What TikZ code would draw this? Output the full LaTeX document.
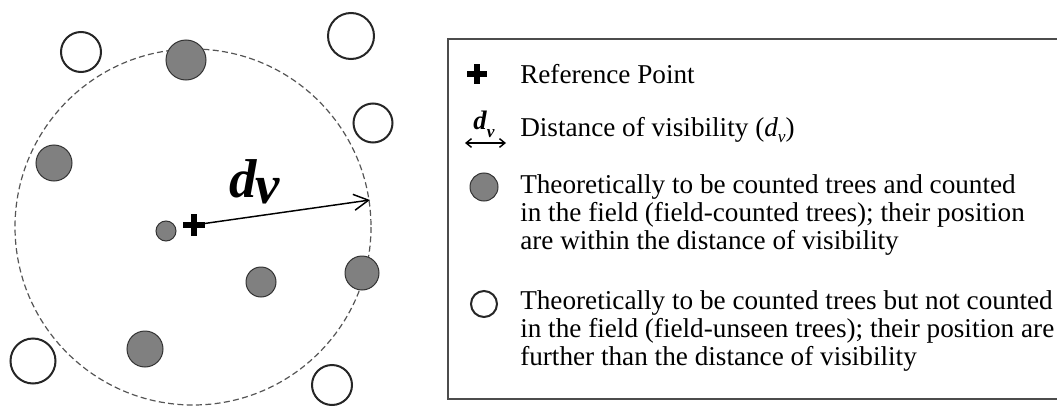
\documentclass[tikz,border=0pt]{standalone}
\usepackage{fontspec}
\setmainfont{Liberation Serif}
\usepackage{tikz}
\usetikzlibrary{arrows.meta}

\definecolor{treegray}{HTML}{808080}
\definecolor{ringgray}{HTML}{555555}

\newcommand{\dvbig}{\textbf{\textit{d}}\kern-1pt\raisebox{-0.12em}{\textbf{\textit{v}}}}
\newcommand{\dvsmall}{\textbf{\textit{d}}\raisebox{-0.3em}{\fontsize{13}{13}\selectfont\textbf{\textit{v}}}}

\begin{document}
\begin{tikzpicture}[x=0.75pt, y=-0.75pt,
    seen/.style={circle, draw=black!80, fill=treegray, line width=0.75pt, inner sep=0pt, minimum size=#1*1.5pt},
    unseen/.style={circle, draw=black!85, fill=white, line width=1.5pt, inner sep=0pt, minimum size=#1*1.5pt},
    refmark/.style={inner sep=0pt, minimum size=#1*0.75pt, path picture={
        \draw[line width=4.2pt] (path picture bounding box.north) -- (path picture bounding box.south)
              (path picture bounding box.west) -- (path picture bounding box.east);}},
    legtext/.style={anchor=west, align=left, inner sep=0pt, font=\fontsize{20.4}{21}\selectfont}]
    \useasboundingbox (0,0) rectangle (1057,407);

    % Distance of visibility ring round the reference point
    \coordinate (ctr) at (193,227);
    \draw[ringgray, dash pattern=on 4.5pt off 2.5pt, line width=0.9pt] (ctr) circle (178);

    % Trees within the ring (field-counted)
    \node[seen=20] (s1) at (186,60) {};
    \node[seen=18] (s2) at (54,163) {};
    \node[seen=10] (s3) at (166,231) {};
    \node[seen=15] (s4) at (261,282) {};
    \node[seen=17] (s5) at (362,273) {};
    \node[seen=18] (s6) at (145,349) {};

    % Trees outside the ring (field-unseen)
    \node[unseen=20] (u1) at (81,52) {};
    \node[unseen=23] (u2) at (351,36) {};
    \node[unseen=19.5] (u3) at (373,123) {};
    \node[unseen=22.5] (u4) at (33,361) {};
    \node[unseen=20] (u5) at (332,385) {};

    % Reference point and radius
    \node[refmark=22] (rp) at (194,225) {};
    \coordinate (edge) at (370,200);
    \draw[-{Straight Barb[length=11pt,width=12pt]}, line width=1.1pt] (rp.center) -- (edge);
    \node[font=\fontsize{41}{41}\selectfont] (dv) at (255,182) {\dvbig};

    % Legend box
    \draw[black!70, line width=1.5pt] (1062,39) -- (448,39) -- (448,399) -- (1062,399);

    % Legend entries
    \node[refmark=20] (lrp) at (477,74) {};
    \node[legtext] (t1) at (520,74) {Reference Point};

    \node[font=\fontsize{20}{20}\selectfont] (ldv) at (484,124) {\dvsmall};
    \coordinate (ldva) at (465,143);
    \coordinate (ldvb) at (506,143);
    \draw[{Straight Barb[length=4pt,width=6.5pt]}-{Straight Barb[length=4pt,width=6.5pt]}, line width=1.1pt] (ldva) -- (ldvb);
    \node[legtext] (t2) at (520,130) {Distance of visibility (\textit{d}\raisebox{-0.25em}{\fontsize{13}{13}\selectfont\textit{v}})};

    \node[seen=14] (ls) at (484,187) {};
    \node[legtext] (t3) at (520,215) {Theoretically to be counted trees and counted\\
        in the field (field-counted trees); their position\\
        are within the distance of visibility};

    \node[unseen=13] (lu) at (484,304) {};
    \node[legtext] (t4) at (520,331) {Theoretically to be counted trees but not counted\\
        in the field (field-unseen trees); their position are\\
        further than the distance of visibility};
\end{tikzpicture}
\end{document}
